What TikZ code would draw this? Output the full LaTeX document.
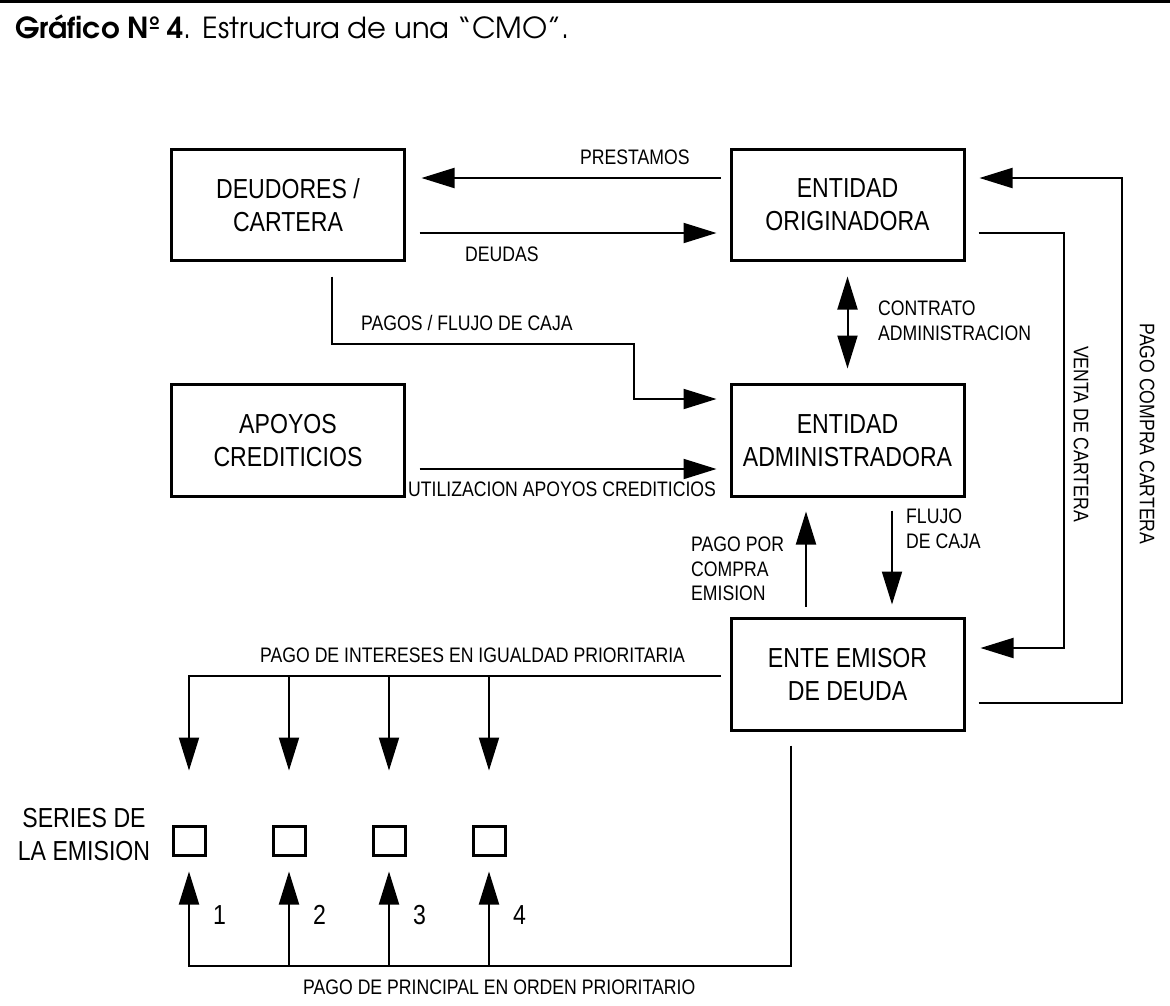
\documentclass[tikz,border=0pt]{standalone}
\usepackage{fontspec}
\usetikzlibrary{arrows.meta}
\setmainfont{Liberation Sans}[FakeStretch=0.84]
\newfontfamily\gothic{texgyreadventor}[Extension=.otf,UprightFont=*-regular,BoldFont=*-bold]
\tikzstyle{entity}=[draw=black,line width=3pt,minimum width=233pt,minimum height=111.5pt,inner sep=0pt,align=center,font=\fontsize{27.5}{33}\selectfont]
\tikzstyle{serie}=[draw=black,line width=3pt,minimum width=32pt,minimum height=29pt,inner sep=0pt]
\tikzstyle{conn}=[line width=2pt]
\tikzstyle{lbl}=[inner sep=0pt,anchor=west,align=left,font=\fontsize{21}{24.5}\selectfont]
\tikzstyle{big}=[inner sep=0pt,align=center,font=\fontsize{27.5}{33}\selectfont]

\begin{document}
\begin{tikzpicture}[x=1pt,y=-1pt,>={Triangle[length=33pt,width=20pt]}]
	\useasboundingbox (0,0) rectangle (1170,1005);
	\draw[line width=3pt] (0,1.5) -- (1170,1.5);
	\node[anchor=west,inner sep=0pt,font=\gothic\fontsize{29}{33}\selectfont] (title) at (15,27) {\textbf{Gráfico Nº 4}. Estructura de una “CMO”.};
	
	\node[entity] (deud) at (288,205) {DEUDORES /\\CARTERA};
	\node[entity] (orig) at (847.5,205) {ENTIDAD\\ORIGINADORA};
	\node[entity] (apoyo) at (288,440.5) {APOYOS\\CREDITICIOS};
	\node[entity] (admin) at (847.5,440.5) {ENTIDAD\\ADMINISTRADORA};
	\node[entity] (ente) at (847.5,674.5) {ENTE EMISOR\\DE DEUDA};
	
	\node[big] (series) at (84,835) {SERIES DE\\LA EMISION};
	\foreach \i/\x in {1/189,2/289,3/389,4/489} {
		\node[serie] (s\i) at (\x,841) {};
		\node[big,anchor=west] (n\i) at (\x+24,915) {\i};
	}
	
	\draw[conn,->] ([shift={(-9pt,27pt)}]orig.west) -- ([shift={(15.5pt,27pt)}]deud.east);
	\draw[conn,->] ([shift={(13.5pt,-28pt)}]deud.east) -- ([shift={(-13pt,-28pt)}]orig.west);
	\draw[conn,->] ([shift={(44pt,-14.25pt)}]deud.south) -- (332,344) -| (634,399) -- ([shift={(-13pt,41.5pt)}]admin.west);
	\draw[conn,->] ([shift={(13.5pt,-28.5pt)}]apoyo.east) -- ([shift={(-13pt,-28.5pt)}]admin.west);
	\draw[conn,<->] ([yshift=-14.25pt]orig.south) -- ([yshift=14.75pt]admin.north);
	\draw[conn,->] ([shift={(-41.5pt,10.75pt)}]ente.north) -- ([shift={(-41.5pt,-13.75pt)}]admin.south);
	\draw[conn,->] ([shift={(44.5pt,-12.75pt)}]admin.south) -- ([shift={(44.5pt,12.75pt)}]ente.north);
	\draw[conn,->] ([shift={(13pt,-28pt)}]orig.east) -- (1064,233) -- (1064,648) -- ([shift={(15pt,26.5pt)}]ente.east);
	\draw[conn,->] ([shift={(13pt,-28.5pt)}]ente.east) -- (1122,703) -- (1122,178) -- ([shift={(14pt,27pt)}]orig.east);
	
	% intereses
	\draw[conn,->] ([shift={(-9pt,-1.5pt)}]ente.west) -- (189,676) -- ([yshift=54.5pt]s1.north);
	\foreach \i/\x in {2/289,3/389,4/489}
		\draw[conn,->] (\x,676) -- ([yshift=54.5pt]s\i.north);
	% principal
	\draw[conn,->] ([shift={(-56.5pt,-13.75pt)}]ente.south) -- (791,966) -- (189,966) -- ([yshift=-14.5pt]s1.south);
	\foreach \i/\x in {2/289,3/389,4/489}
		\draw[conn,->] (\x,966) -- ([yshift=-14.5pt]s\i.south);
	
	\node[lbl] (lprest) at (580,157) {PRESTAMOS};
	\node[lbl] (ldeudas) at (465,254) {DEUDAS};
	\node[lbl] (lpagos) at (361,323) {PAGOS / FLUJO DE CAJA};
	\node[lbl] (lutil) at (408,489) {UTILIZACION APOYOS CREDITICIOS};
	\node[lbl] (lcontr) at (878,321) {CONTRATO\\ADMINISTRACION};
	\node[lbl] (lflujo) at (906,529) {FLUJO\\DE CAJA};
	\node[lbl] (lpago) at (691,569) {PAGO POR\\COMPRA\\EMISION};
	\node[lbl,rotate=-90,anchor=center] (lventa) at (1081,434) {VENTA DE CARTERA};
	\node[lbl,rotate=-90,anchor=center] (lcompra) at (1147,434) {PAGO COMPRA CARTERA};
	\node[lbl] (linter) at (260,655) {PAGO DE INTERESES EN IGUALDAD PRIORITARIA};
	\node[lbl] (lprinc) at (303,987) {PAGO DE PRINCIPAL EN ORDEN PRIORITARIO};
\end{tikzpicture}
\end{document}
